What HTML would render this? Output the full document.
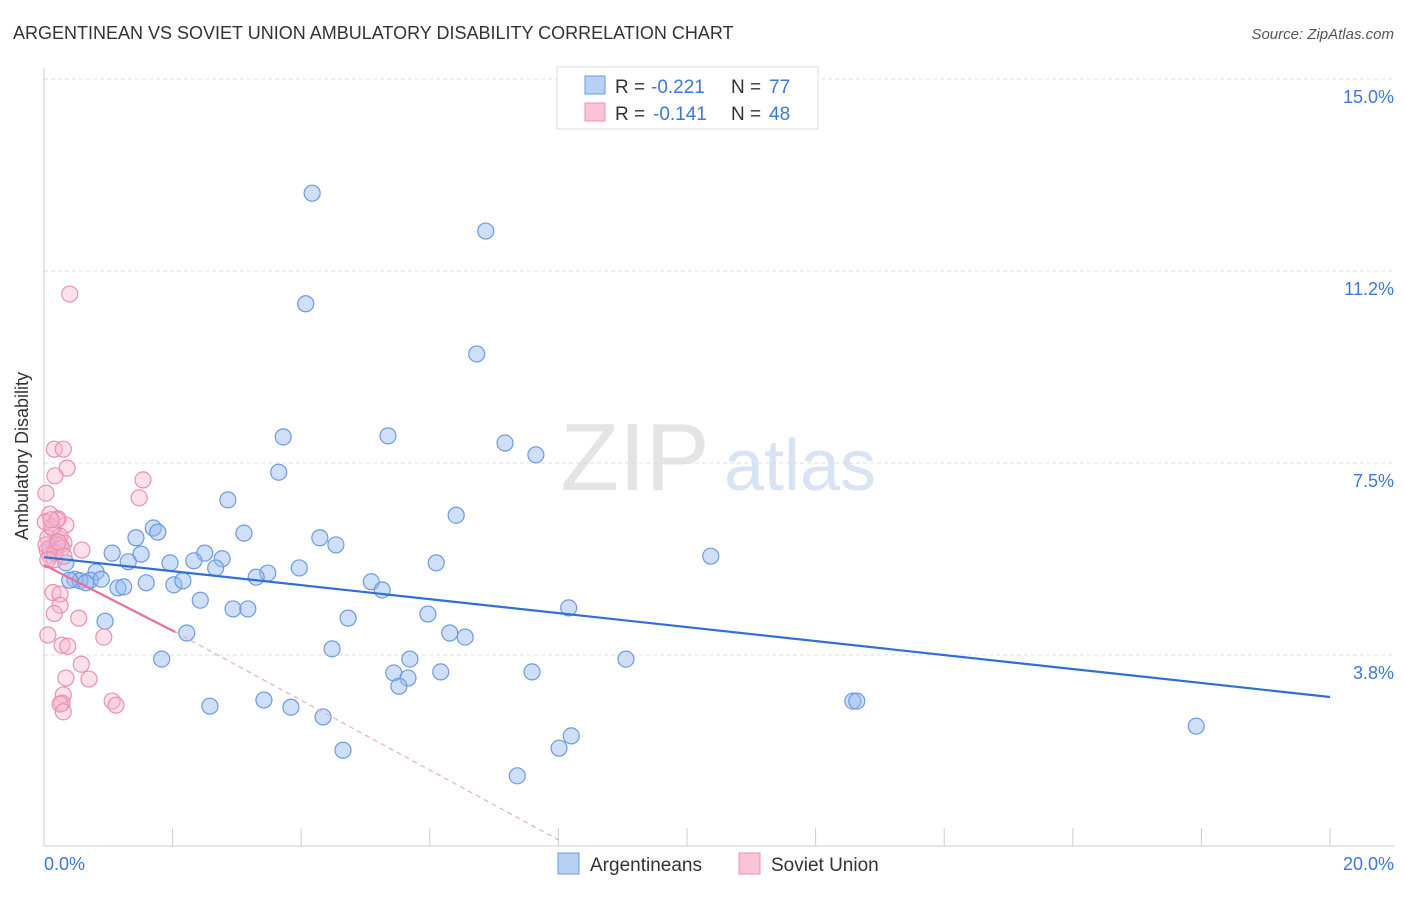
<!DOCTYPE html>
<html><head><meta charset="utf-8"><style>
body{margin:0;background:#fff;font-family:"Liberation Sans",sans-serif}
svg text{font-family:"Liberation Sans",sans-serif}
</style></head><body>
<svg id="c" width="1406" height="892" viewBox="0 0 1406 892" xmlns="http://www.w3.org/2000/svg">
<text x="13" y="39" font-size="18" fill="#333">ARGENTINEAN VS SOVIET UNION AMBULATORY DISABILITY CORRELATION CHART</text>
<text x="1394" y="39" font-size="15" fill="#555" font-style="italic" text-anchor="end">Source: ZipAtlas.com</text>
<g><text x="635" y="490" font-size="96" fill="#e4e4e4" font-family="Liberation Serif" text-anchor="middle">ZIP</text><text x="800" y="490" font-size="72" fill="#d8e4f4" text-anchor="middle">atlas</text></g>
<g id="grid"></g>
<line x1="44" y1="68" x2="44" y2="846" stroke="#ccc"/>
<line x1="44" y1="846" x2="1394" y2="846" stroke="#ccc"/>
<g id="ticks"></g>
<text x="28" y="456" font-size="18" fill="#333" text-anchor="middle" transform="rotate(-90 28 456)">Ambulatory Disability</text>
<text x="44" y="870" font-size="18" fill="#3b78d8">0.0%</text>
<text x="1394" y="870" font-size="18" fill="#3b78d8" text-anchor="end">20.0%</text>
<g id="pts"></g>
<g id="lines"></g>
<g>
<rect x="557" y="67" width="261" height="62" fill="#fff" stroke="#ddd"/>
<rect x="585" y="76" width="20" height="18" fill="#b7d1f5" stroke="#6a9be0"/>
<rect x="585" y="103" width="20" height="18" fill="#f9c5d6" stroke="#ec8fae"/>
<text x="615" y="93" font-size="19" fill="#333">R =</text>
<text x="651" y="93" font-size="19" fill="#3b78d8">-0.221</text>
<text x="731" y="93" font-size="19" fill="#333">N =</text>
<text x="769" y="93" font-size="19" fill="#3b78d8">77</text>
<text x="615" y="120" font-size="19" fill="#333">R =</text>
<text x="653" y="120" font-size="19" fill="#3b78d8">-0.141</text>
<text x="731" y="120" font-size="19" fill="#333">N =</text>
<text x="769" y="120" font-size="19" fill="#3b78d8">48</text>
</g>
<g>
<rect x="558" y="853" width="21" height="21" fill="#b7d1f5" stroke="#6a9be0"/>
<text x="590" y="871" font-size="19" fill="#333">Argentineans</text>
<rect x="739" y="853" width="21" height="21" fill="#f9c5d6" stroke="#ec8fae"/>
<text x="771" y="871" font-size="19" fill="#333">Soviet Union</text>
</g>
</svg>
<script>
const yTicks=[15,11.25,7.5,3.75];
const yTickLabels=["15.0%","11.2%","7.5%","3.8%"];
const blueX=[4.17,6.87,4.07,6.73,3.72,5.35,7.17,7.65,3.65,2.86,6.41,3.11,1.70,1.77,1.43,4.29,4.54,1.06,1.51,2.50,2.33,2.77,1.96,1.31,0.34,2.67,3.97,3.48,3.30,0.81,0.48,0.72,0.56,0.89,0.40,0.65,1.15,1.24,1.59,2.02,2.16,5.09,5.26,6.10,10.37,2.43,2.94,3.17,5.97,4.73,8.16,6.31,6.55,0.95,2.22,4.48,1.83,5.69,9.05,5.44,5.66,6.17,7.59,5.52,3.42,2.58,3.84,12.58,12.64,4.34,17.92,8.20,8.01,4.65,7.36,0.25,0.09];
const blueY=[12.77,12.03,10.61,9.63,8.01,8.03,7.89,7.66,7.32,6.78,6.48,6.13,6.23,6.15,6.04,6.04,5.90,5.74,5.72,5.74,5.59,5.63,5.55,5.57,5.55,5.45,5.45,5.35,5.27,5.37,5.23,5.21,5.20,5.23,5.21,5.16,5.06,5.08,5.16,5.12,5.20,5.18,5.02,5.55,5.68,4.82,4.65,4.65,4.55,4.47,4.67,4.18,4.10,4.41,4.18,3.87,3.67,3.67,3.67,3.40,3.30,3.42,3.42,3.14,2.87,2.75,2.73,2.85,2.85,2.54,2.36,2.17,1.93,1.89,1.39,5.90,5.84];
const pinkX=[0.40,0.16,0.30,0.36,0.17,1.54,1.48,0.03,0.09,0.22,0.34,0.02,0.14,0.25,0.06,0.31,0.20,0.05,0.59,0.09,0.16,0.28,0.14,0.25,0.25,0.16,0.54,0.06,0.93,0.28,0.37,0.58,0.34,0.70,0.30,0.28,0.25,1.06,1.12,0.30,0.12,0.20,0.03,0.17,0.06,0.31,0.22,0.11];
const pinkY=[10.80,7.77,7.77,7.40,7.25,7.17,6.82,6.91,6.50,6.41,6.29,6.35,6.21,6.07,6.04,5.94,5.90,5.80,5.80,5.70,5.61,5.84,4.97,4.94,4.72,4.56,4.47,4.14,4.10,3.94,3.92,3.57,3.30,3.28,2.97,2.81,2.79,2.85,2.77,2.64,6.25,6.39,5.90,5.74,5.61,5.68,5.96,6.39];
const blueTrend=[0,5.66,20,2.93];
const pinkTrend=[0,5.51,2.04,4.20,8.0,0.14];
const X=v=>44+v*64.3, Y=v=>79+(15-v)*51.2;
const NS="http://www.w3.org/2000/svg";
function mk(t,a,p){const e=document.createElementNS(NS,t);for(const k in a)e.setAttribute(k,a[k]);p.appendChild(e);return e;}
const grid=document.getElementById('grid');
yTicks.forEach((t,i)=>{
 const l=mk('line',{x1:44,x2:1394,y1:Y(t),y2:Y(t),stroke:'#ddd','stroke-dasharray':'4,3'},grid);
 
 
 const tx=mk('text',{x:1394,y:Y(t)+24,'font-size':18,fill:'#3b78d8','text-anchor':'end'},grid);
 tx.textContent=yTickLabels[i];
 
 
});
const ticks=document.getElementById('ticks');
for(let i=1;i<=10;i++){const l=mk('line',{x1:X(i*2),x2:X(i*2),y1:828,y2:846,stroke:'#ccc'},ticks);
 
 }
const pts=document.getElementById('pts');
blueX.forEach((v,i)=>{const c=mk('circle',{cx:X(v),cy:Y(blueY[i]),r:8,fill:'rgba(150,185,240,0.45)',stroke:'#6a9be0','stroke-width':1.2},pts);
 
 });
pinkX.forEach((v,i)=>{const c=mk('circle',{cx:X(v),cy:Y(pinkY[i]),r:8,fill:'rgba(248,180,205,0.4)',stroke:'#ec8fae','stroke-width':1.2},pts);
 
 });
const lines=document.getElementById('lines');
const b=mk('line',{x1:X(blueTrend[0]),y1:Y(blueTrend[1]),x2:X(blueTrend[2]),y2:Y(blueTrend[3]),stroke:'#2f6fd6','stroke-width':2.2},lines);


const p=mk('line',{x1:X(pinkTrend[0]),y1:Y(pinkTrend[1]),x2:X(pinkTrend[2]),y2:Y(pinkTrend[3]),stroke:'#e8709a','stroke-width':2.2},lines);


const pd=mk('line',{x1:X(pinkTrend[2]),y1:Y(pinkTrend[3]),x2:X(pinkTrend[4]),y2:Y(pinkTrend[5]),stroke:'#eeaac2','stroke-width':1.2,'stroke-dasharray':'5,4'},lines);


</script>
</body></html>
